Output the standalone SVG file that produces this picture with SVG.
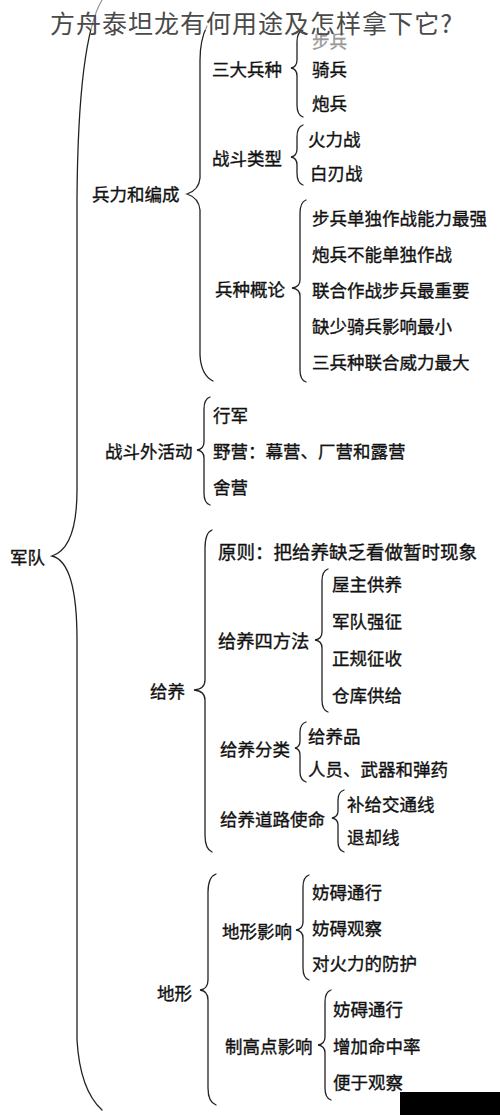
<svg xmlns="http://www.w3.org/2000/svg" width="500" height="1115" viewBox="0 0 500 1115">
<style>
text{font-family:"Noto Sans CJK SC","Noto Sans",sans-serif;font-size:17.5px;fill:#111;stroke:#111;stroke-width:0.35;dominant-baseline:central}
.title{font-size:25px;fill:#4a4a4a;stroke:none;dominant-baseline:auto}
.faint{fill:#999;stroke:#999}
.brace{fill:none;stroke:#222;stroke-width:1.3;stroke-linecap:round}
</style>
<rect width="500" height="1115" fill="#fff"/>
<g id="connectors">
<path class="brace" d="M102 0 Q78 40 77 200 L77 490 Q77 548 52 556 Q77 562 77 640 L77 1040 Q80 1090 102 1110"/>
<path class="brace" d="M207 26 Q200 40 200 60 L200 178 Q199 190 187 194 Q199 198 200 210 L200 355 Q201 375 213 381"/>
<path class="brace" d="M303 30 Q297 32 297 42 L297 60 Q297 67 291 68 Q297 69 297 76 L297 105 Q297 115 303 117"/>
<path class="brace" d="M303 125 Q297 127 297 137 L297 149 Q297 156 291 157 Q297 158 297 165 L297 173 Q297 183 303 185"/>
<path class="brace" d="M306 200 Q300 202 300 214 L300 280 Q300 287 292 288 Q300 289 300 296 L300 370 Q300 380 306 382"/>
<path class="brace" d="M210 397 Q204 399 204 409 L204 442 Q204 449 197 450 Q204 451 204 458 L204 493 Q204 503 210 505"/>
<path class="brace" d="M212 530 Q205 533 205 548 L205 680 Q205 689 194 690 Q205 691 205 700 L205 835 Q205 849 212 852"/>
<path class="brace" d="M328 569 Q322 571 322 581 L322 632 Q322 639 315 640 Q322 641 322 648 L322 700 Q322 710 328 712"/>
<path class="brace" d="M306 722 Q300 724 300 732 L300 741 Q300 747 295 748 Q300 749 300 755 L300 772 Q300 780 306 782"/>
<path class="brace" d="M344 790 Q338 792 338 800 L338 811 Q338 817 332 818 Q338 819 338 825 L338 842 Q338 850 344 852"/>
<path class="brace" d="M216 874 Q208 877 208 892 L208 980 Q208 989 200 990 Q208 991 208 1000 L208 1088 Q208 1102 216 1105"/>
<path class="brace" d="M309 875 Q303 877 303 887 L303 922 Q303 929 296 930 Q303 931 303 938 L303 968 Q303 978 309 980"/>
<path class="brace" d="M331 990 Q325 992 325 1002 L325 1037 Q325 1044 318 1045 Q325 1046 325 1053 L325 1088 Q325 1098 331 1100"/>
</g>
<g id="n-root"><text x="10" y="556">军队</text></g>
<g id="n-bingli"><text x="92" y="193">兵力和编成</text></g>
<g id="n-sanda"><text x="212" y="68">三大兵种</text>
<text class="faint" x="312" y="40">步兵</text><text x="312" y="68">骑兵</text><text x="312" y="102">炮兵</text></g>
<g id="n-zhandou"><text x="212" y="157">战斗类型</text>
<text x="308" y="138">火力战</text><text x="310" y="172">白刃战</text></g>
<g id="n-bingzhong"><text x="215" y="288">兵种概论</text>
<text x="312" y="217">步兵单独作战能力最强</text><text x="312" y="253">炮兵不能单独作战</text><text x="312" y="289">联合作战步兵最重要</text><text x="312" y="325">缺少骑兵影响最小</text><text x="312" y="361">三兵种联合威力最大</text></g>
<g id="n-zhandouwai"><text x="105" y="450">战斗外活动</text>
<text x="213" y="414">行军</text><text x="213" y="450">野营：幕营、厂营和露营</text><text x="213" y="486">舍营</text></g>
<g id="n-geiyang"><text x="150" y="690">给养</text>
<text x="218" y="551" style="font-size:18.5px">原则：把给养缺乏看做暂时现象</text></g>
<g id="n-sifangfa"><text x="218" y="640" style="font-size:18.3px">给养四方法</text>
<text x="332" y="583">屋主供养</text><text x="332" y="620">军队强征</text><text x="332" y="657">正规征收</text><text x="332" y="694">仓库供给</text></g>
<g id="n-fenlei"><text x="220" y="748">给养分类</text>
<text x="308" y="735">给养品</text><text x="308" y="768">人员、武器和弹药</text></g>
<g id="n-daolu"><text x="220" y="818">给养道路使命</text>
<text x="347" y="803">补给交通线</text><text x="347" y="836">退却线</text></g>
<g id="n-dixing"><text x="157" y="992">地形</text></g>
<g id="n-dixingyingxiang"><text x="222" y="930">地形影响</text>
<text x="312" y="891">妨碍通行</text><text x="312" y="927">妨碍观察</text><text x="312" y="962">对火力的防护</text></g>
<g id="n-zhigaodian"><text x="225" y="1045">制高点影响</text>
<text x="333" y="1008">妨碍通行</text><text x="333" y="1045">增加命中率</text><text x="333" y="1081">便于观察</text></g>
<rect x="0" y="0" width="500" height="30" fill="#fff" opacity="0.55"/>
<text class="title" x="50" y="33" textLength="402" lengthAdjust="spacing">方舟泰坦龙有何用途及怎样拿下它?</text>
<rect x="400" y="1092" width="100" height="23" fill="#000"/>
</svg>
